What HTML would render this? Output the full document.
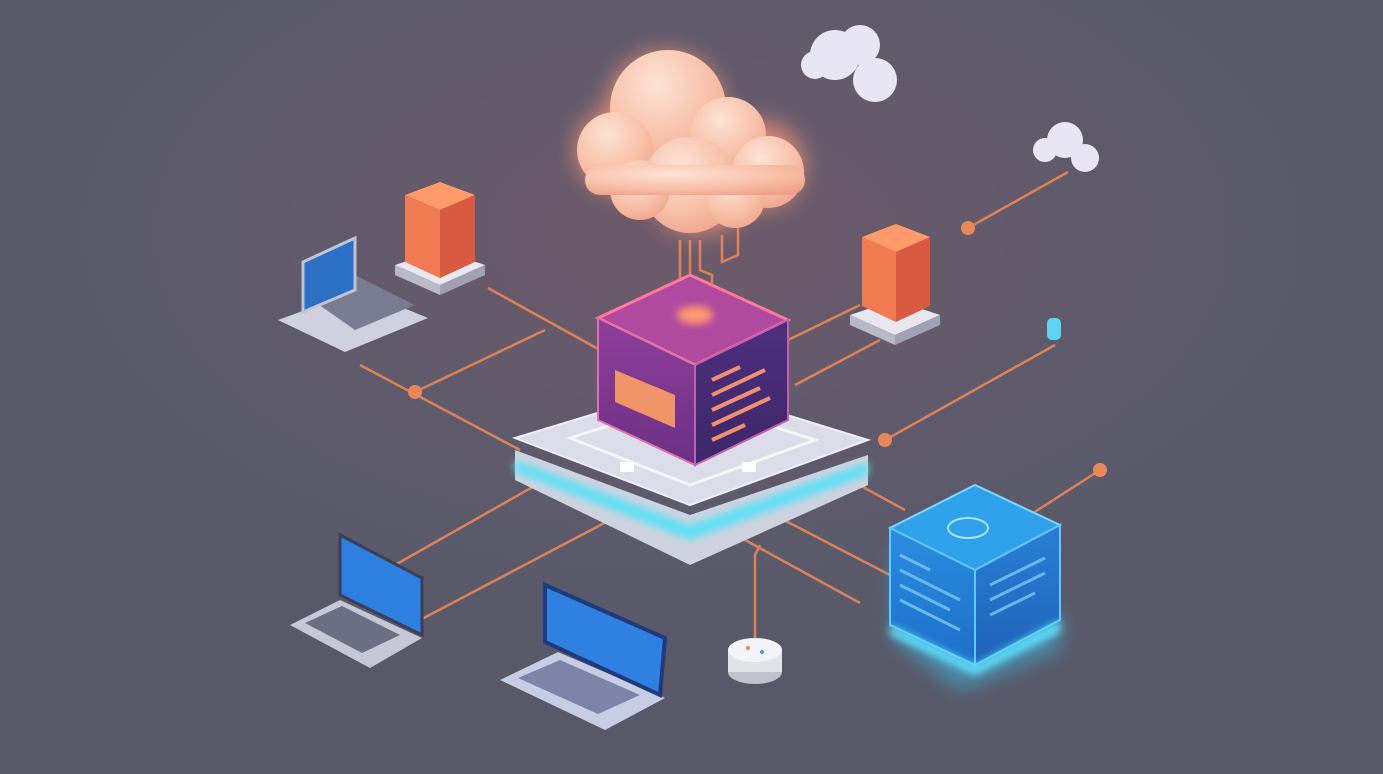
<!DOCTYPE html>
<html><head><meta charset="utf-8"><style>
html,body{margin:0;padding:0;background:#5b5a6b;}
svg{display:block}
</style></head><body>
<svg width="1383" height="774" viewBox="0 0 1383 774" xmlns="http://www.w3.org/2000/svg">
<defs>
<radialGradient id="bg" cx="0.5" cy="0.3" r="0.6">
<stop offset="0" stop-color="#6e5a6a"/><stop offset="0.6" stop-color="#5c5a6b"/><stop offset="1" stop-color="#585868"/>
</radialGradient>
<radialGradient id="cloudG" cx="0.4" cy="0.3" r="0.8">
<stop offset="0" stop-color="#fde3d6"/><stop offset="0.6" stop-color="#f8c0a8"/><stop offset="1" stop-color="#f0a088"/>
</radialGradient>
<filter id="glow" x="-30%" y="-30%" width="160%" height="160%"><feGaussianBlur stdDeviation="10"/></filter>
<filter id="glow2" x="-30%" y="-30%" width="160%" height="160%"><feGaussianBlur stdDeviation="4"/></filter>
<linearGradient id="cubeL" x1="0" y1="0" x2="0" y2="1"><stop offset="0" stop-color="#8e3f98"/><stop offset="1" stop-color="#6c2f86"/></linearGradient>
<linearGradient id="cubeR" x1="0" y1="0" x2="0" y2="1"><stop offset="0" stop-color="#4e2f7e"/><stop offset="1" stop-color="#3c2668"/></linearGradient>
<linearGradient id="blueL" x1="0" y1="0" x2="0" y2="1"><stop offset="0" stop-color="#2b8de0"/><stop offset="1" stop-color="#1c6fc8"/></linearGradient>
<linearGradient id="blueR" x1="0" y1="0" x2="0" y2="1"><stop offset="0" stop-color="#2a7fd6"/><stop offset="1" stop-color="#1d62b8"/></linearGradient>
</defs>
<rect width="1383" height="774" fill="url(#bg)"/>

<g stroke="#e8875a" stroke-width="2.5" fill="none" opacity="0.9">
<line x1="488" y1="288" x2="600" y2="350"/>
<line x1="360" y1="365" x2="520" y2="450"/>
<line x1="415" y1="392" x2="545" y2="330"/>
<line x1="395" y1="565" x2="545" y2="480"/>
<line x1="420" y1="620" x2="610" y2="520"/>
<line x1="788" y1="340" x2="860" y2="305"/>
<line x1="795" y1="385" x2="880" y2="340"/>
<line x1="885" y1="440" x2="1055" y2="345"/>
<line x1="968" y1="228" x2="1068" y2="172"/>
<line x1="1030" y1="515" x2="1100" y2="470"/>
<line x1="850" y1="480" x2="905" y2="510"/>
<line x1="780" y1="518" x2="890" y2="575"/>
<line x1="745" y1="540" x2="860" y2="603"/>
<polyline points="755,640 755,555 760,545"/>
<polyline points="690,240 690,310"/>
<polyline points="700,240 700,270 712,275 712,312"/>
<polyline points="722,235 722,262 738,255 738,225"/>
<polyline points="680,240 680,300"/>
</g>
<g fill="#e8875a">
<circle cx="415" cy="392" r="7"/><circle cx="968" cy="228" r="7"/>
<circle cx="885" cy="440" r="7"/><circle cx="1100" cy="470" r="7"/>
</g>
<rect x="1047" y="318" width="14" height="22" rx="5" fill="#5fd4f0"/>

<g>
<g filter="url(#glow)" fill="#f59a7a" opacity="0.7">
<circle cx="665" cy="110" r="60"/><circle cx="620" cy="150" r="45"/><circle cx="760" cy="165" r="45"/><circle cx="700" cy="180" r="55"/>
</g>
<g fill="url(#cloudG)">
<circle cx="668" cy="108" r="58"/><circle cx="615" cy="150" r="38"/><circle cx="728" cy="135" r="38"/><circle cx="768" cy="172" r="36"/>
<circle cx="690" cy="185" r="48"/><circle cx="640" cy="190" r="30"/><circle cx="735" cy="198" r="30"/><rect x="585" y="165" width="220" height="30" rx="15"/>
</g>
</g>
<g fill="#e8e6f4">
<circle cx="835" cy="55" r="25"/><circle cx="860" cy="45" r="20"/><circle cx="875" cy="80" r="22"/><circle cx="815" cy="65" r="14"/>
<circle cx="1065" cy="140" r="18"/><circle cx="1085" cy="158" r="14"/><circle cx="1045" cy="150" r="12"/>
</g>

<g>
<polygon points="515,450 690,515 868,455 868,485 690,565 515,480" fill="#cfd3e0"/>
<polygon points="515,460 690,525 868,462 868,475 690,540 515,472" fill="#5fe0f5" filter="url(#glow2)"/>
<polygon points="515,438 690,385 868,440 690,505" fill="#dcdde8" stroke="#eef0f8" stroke-width="2"/>
<polygon points="570,438 690,400 815,440 690,485" fill="none" stroke="#f6f6fb" stroke-width="3"/>
<rect x="620" y="462" width="14" height="10" fill="#fff"/><rect x="742" y="462" width="14" height="10" fill="#fff"/>
</g>
<g>
<polygon points="598,318 690,275 788,320 695,365" fill="#b04a9e" stroke="#ff7a9a" stroke-width="3"/>
<polygon points="598,318 695,365 695,465 598,420" fill="url(#cubeL)" stroke="#e070b0" stroke-width="2"/>
<polygon points="695,365 788,320 788,420 695,465" fill="url(#cubeR)" stroke="#c060b0" stroke-width="2"/>
<ellipse cx="695" cy="315" rx="18" ry="9" fill="#ff9a70" filter="url(#glow2)"/>
<polygon points="615,370 675,395 675,428 615,402" fill="#f0946a"/>
<g stroke="#f09070" stroke-width="4">
<line x1="712" y1="380" x2="740" y2="367"/><line x1="712" y1="395" x2="765" y2="370"/><line x1="712" y1="410" x2="760" y2="388"/><line x1="712" y1="425" x2="770" y2="398"/><line x1="712" y1="440" x2="745" y2="425"/>
</g>
</g>

<g>
<polygon points="395,265 440,250 485,265 440,285" fill="#e8e8f0"/><polygon points="395,265 440,285 440,295 395,275" fill="#b8bac8"/><polygon points="440,285 485,265 485,275 440,295" fill="#a0a2b4"/>
<polygon points="405,195 440,182 475,195 440,210" fill="#ff9a6a"/>
<polygon points="405,195 440,210 440,278 405,262" fill="#f07a52"/>
<polygon points="440,210 475,195 475,262 440,278" fill="#d85a40"/>
<polygon points="850,315 895,300 940,315 895,335" fill="#e8e8f0"/><polygon points="850,315 895,335 895,345 850,325" fill="#b8bac8"/><polygon points="895,335 940,315 940,325 895,345" fill="#a0a2b4"/>
<polygon points="862,237 896,224 930,237 896,252" fill="#ff9a6a"/>
<polygon points="862,237 896,252 896,322 862,306" fill="#f07a52"/>
<polygon points="896,252 930,237 930,306 896,322" fill="#d85a40"/>
</g>

<g>
<polygon points="278,320 360,290 428,318 345,352" fill="#cfd1de"/>
<polygon points="305,295 355,275 415,305 355,330" fill="#7a7c92"/>
<polygon points="303,262 355,238 355,290 303,312" fill="#2c6fc4" stroke="#c0c4d6" stroke-width="3"/>

<polygon points="290,625 340,600 422,638 370,668" fill="#c6c8d6"/>
<polygon points="305,623 342,606 400,635 362,653" fill="#6c6e84"/>
<polygon points="340,535 422,578 422,635 340,595" fill="#2f7fe0" stroke="#3a3e5a" stroke-width="3"/>

<polygon points="500,680 558,652 665,698 605,730" fill="#c6cde4"/>
<polygon points="518,678 560,660 640,695 598,714" fill="#7c84a8"/>
<polygon points="545,585 665,638 660,695 545,642" fill="#2f80e0" stroke="#1e3a7a" stroke-width="4"/>
</g>

<g>
<ellipse cx="755" cy="672" rx="27" ry="12" fill="#c0c2cc"/>
<rect x="728" y="650" width="54" height="22" fill="#e2e3ea"/>
<ellipse cx="755" cy="650" rx="27" ry="12" fill="#f4f4f8"/>
<circle cx="748" cy="648" r="2" fill="#e8875a"/><circle cx="762" cy="652" r="2" fill="#4a9ae0"/>
</g>

<g>
<polygon points="895,540 960,640 1060,610 1060,650 960,690 895,640" fill="#3ac8f5" opacity="0.5" filter="url(#glow)"/>
<polygon points="890,528 975,485 1060,525 975,570" fill="#2fa0ea" stroke="#7fd8ff" stroke-width="2"/>
<polygon points="890,528 975,570 975,665 890,625" fill="url(#blueL)" stroke="#60c8ff" stroke-width="2"/>
<polygon points="975,570 1060,525 1060,620 975,665" fill="url(#blueR)" stroke="#60c8ff" stroke-width="2"/>
<polygon points="890,625 975,665 1060,620 1060,632 975,675 890,635" fill="#5fe0ff" filter="url(#glow2)"/>
<ellipse cx="968" cy="528" rx="20" ry="10" fill="none" stroke="#a8e4ff" stroke-width="2"/>
<g stroke="#7cc8f4" stroke-width="3" opacity="0.8">
<line x1="900" y1="555" x2="930" y2="570"/><line x1="900" y1="570" x2="960" y2="600"/><line x1="900" y1="585" x2="950" y2="610"/><line x1="900" y1="600" x2="960" y2="630"/>
<line x1="990" y1="585" x2="1045" y2="558"/><line x1="990" y1="600" x2="1045" y2="573"/><line x1="990" y1="615" x2="1035" y2="593"/>
</g>
</g>
</svg>
</body></html>
